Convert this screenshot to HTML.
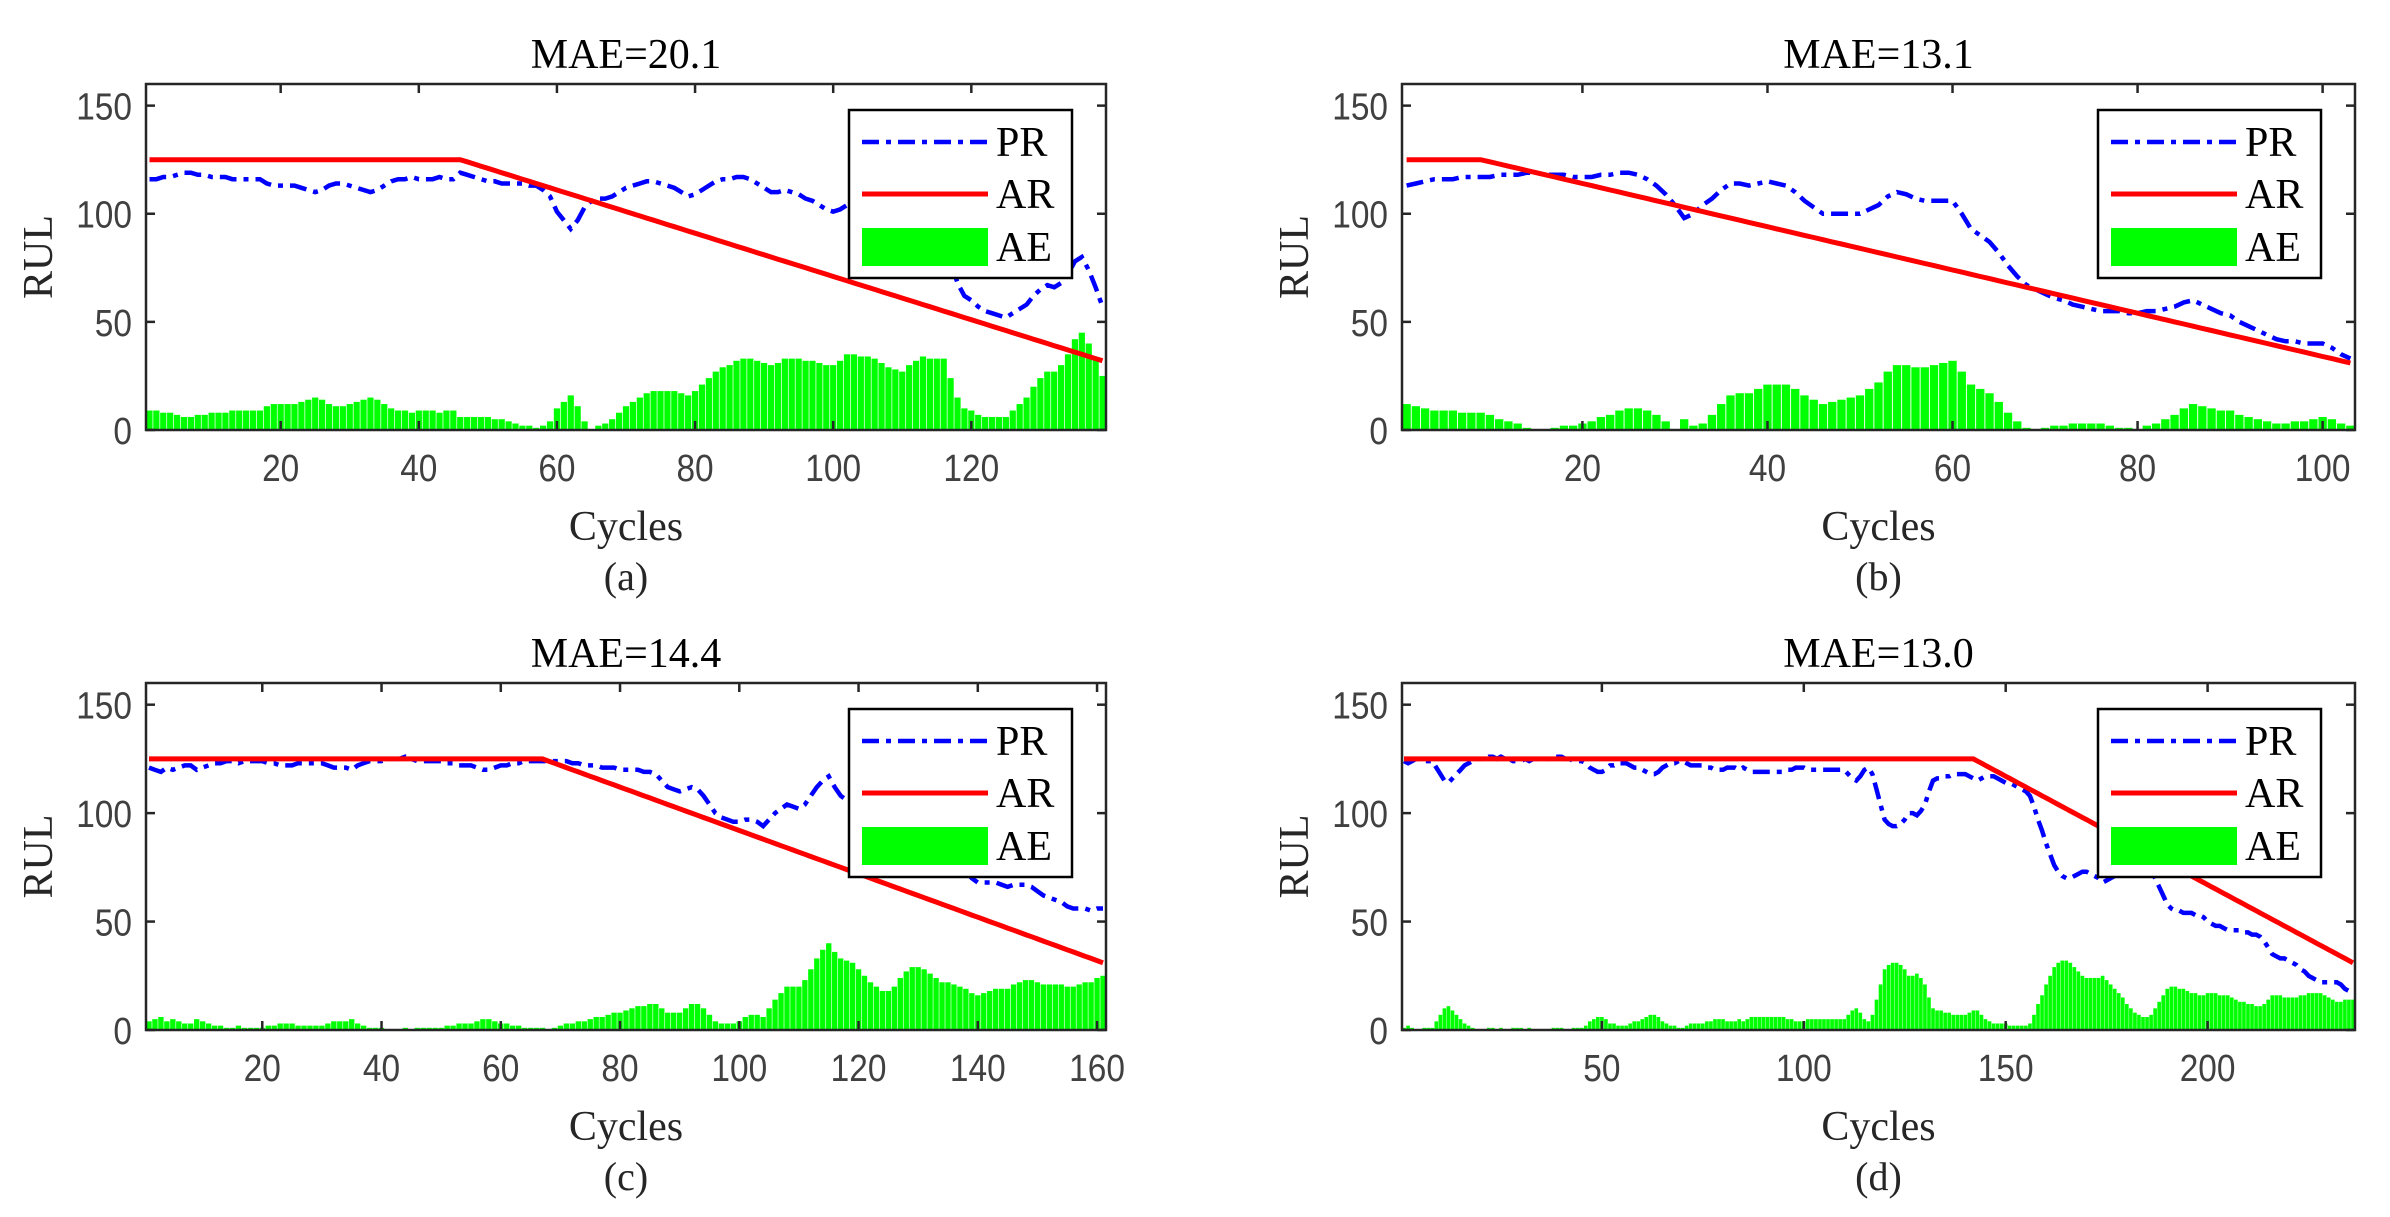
<!DOCTYPE html>
<html><head><meta charset="utf-8"><style>
html,body{margin:0;padding:0;background:#fff;}
svg{display:block;}
</style></head><body>
<svg id="fig" width="2390" height="1217" viewBox="0 0 2390 1217" xmlns="http://www.w3.org/2000/svg"></svg>
<script>
// ---- data (per-cycle values) ----
const titlesData = ["MAE=20.1","MAE=13.1","MAE=14.4","MAE=13.0"];
const captionsData = ["(a)","(b)","(c)","(d)"];
const kneeA = 46, kneeB = 9, kneeC = 67, kneeD = 142;
const maxRul = 125;
const xTicksA = [20,40,60,80,100,120];
const xTicksB = [20,40,60,80,100];
const xTicksC = [20,40,60,80,100,120,140,160];
const xTicksD = [50,100,150,200];
const yTicks = [0,50,100,150];
const prA = [116,116,117,117,118,119,119,118,118,117,
117,117,116,116,116,116,116,114,113,113,
113,113,112,111,110,111,113,114,114,113,
112,111,110,111,113,115,116,116,117,116,
116,116,117,116,116,119,118,117,116,115,
115,114,114,114,114,113,113,111,108,101,
97,93,97,103,106,107,107,108,110,112,
113,114,115,115,114,113,112,110,108,109,
111,113,115,116,116,117,117,116,114,112,
110,110,111,110,109,107,106,104,102,101,
102,104,103,101,100,98,95,92,90,88,
90,91,92,90,89,88,78,68,62,60,
57,55,54,53,52,54,56,58,62,65,
67,66,68,72,78,80,74,66,57];
const prB = [113,114,115,116,116,116,117,117,117,117,
118,118,118,119,119,118,118,118,117,117,
117,118,118,119,119,118,116,113,109,104,
98,100,104,107,111,114,114,113,114,115,
114,113,110,106,103,100,100,100,100,100,
102,104,108,110,109,107,106,106,106,106,
100,93,90,87,82,76,71,67,65,63,
61,60,58,57,56,55,55,55,54,54,
55,55,56,57,59,60,58,56,54,53,
50,48,46,44,42,41,41,40,40,40,
38,35,33];
const prC = [121,120,119,121,120,121,122,122,120,121,
122,123,123,124,124,123,124,124,124,124,
123,123,122,122,122,123,123,123,123,123,
122,121,121,121,120,122,123,124,124,124,
125,125,125,126,125,124,124,124,124,124,
123,123,122,122,122,121,120,120,121,122,
122,123,123,124,124,124,124,124,124,124,
124,123,123,122,122,122,121,121,121,120,
120,120,120,119,119,118,115,112,111,110,
111,112,111,108,104,100,98,97,96,96,
97,97,96,94,97,100,102,104,103,102,
104,108,112,115,117,112,108,106,104,100,
96,92,89,86,85,86,89,91,92,91,
89,86,83,80,79,77,75,73,70,68,
68,68,68,67,66,67,67,67,66,64,
62,61,60,59,57,56,56,56,55,56,56];
const prD = [124,123,124,125,125,124,124,124,121,118,
115,114,116,118,120,122,123,124,125,125,
125,126,126,125,126,125,125,124,124,124,
125,124,125,125,125,125,125,126,126,126,
125,125,124,124,124,123,121,120,119,119,
120,122,122,123,123,123,122,121,121,120,
119,118,118,119,121,122,123,123,124,124,
123,122,122,122,122,121,121,120,120,120,
121,121,121,120,121,120,119,119,119,119,
119,119,119,119,119,120,120,121,121,121,
120,120,120,120,120,120,120,120,120,120,
118,116,115,117,120,121,118,111,104,97,
95,94,94,95,97,100,100,99,101,104,
110,115,116,116,117,117,118,118,118,118,
117,116,115,116,117,117,117,116,115,114,
114,113,112,111,110,108,103,97,92,86,
81,76,73,71,70,70,71,72,73,73,
72,71,70,68,69,70,71,72,73,75,
76,77,77,77,76,74,70,66,62,58,
56,55,55,54,54,54,53,53,52,50,
49,48,48,47,46,46,46,46,45,45,
44,44,43,41,38,35,34,33,33,32,
31,30,28,27,25,24,23,22,22,22,
22,22,21,19,18,17];

const NS = "http://www.w3.org/2000/svg";
const svg = document.getElementById('fig');
function mk(tag, attrs, parent){
  const e = document.createElementNS(NS, tag);
  for (const k in attrs) e.setAttribute(k, attrs[k]);
  (parent||svg).appendChild(e);
  return e;
}
const panels = [
  {pr:prA, knee:kneeA, xt:xTicksA, L:146, T:84, R:1106, B:430, id:'a'},
  {pr:prB, knee:kneeB, xt:xTicksB, L:1402, T:84, R:2355, B:430, id:'b'},
  {pr:prC, knee:kneeC, xt:xTicksC, L:146, T:683, R:1106, B:1030, id:'c'},
  {pr:prD, knee:kneeD, xt:xTicksD, L:1402, T:683, R:2355, B:1030, id:'d'}
];
const AXC = '#262626', TKC = '#404040';
panels.forEach((p, pi) => {
  const n = p.pr.length;
  const ar = p.pr.map((v,i)=> Math.min(maxRul, maxRul - (i+1-p.knee)));
  const ae = p.pr.map((v,i)=> Math.abs(v - ar[i]));
  const xs = c => p.L + (c - 0.5) / n * (p.R - p.L);
  const ys = v => p.B - v / 160 * (p.B - p.T);
  const g = mk('g', {});
  
  
  const uw = (p.R - p.L) / n;
  const bg = mk('g', {fill:'#00ff00'}, g);
  
  
  ae.forEach((v,i) => {
    const b = mk('rect', {x: xs(i+1) - uw*0.45, y: ys(v), width: uw*0.9, height: p.B - ys(v)}, bg);
    
    
  });
  const prPts = p.pr.map((v,i)=> xs(i+1).toFixed(1)+','+ys(v).toFixed(1)).join(' ');
  const prl = mk('polyline', {points: prPts, fill:'none', stroke:'#0000ff', 'stroke-width':4.5, 'stroke-dasharray':'17,7,5,7'}, g);
  
  
  const arPts = ar.map((v,i)=> xs(i+1).toFixed(1)+','+ys(v).toFixed(1)).join(' ');
  const arl = mk('polyline', {points: arPts, fill:'none', stroke:'#ff0000', 'stroke-width':5}, g);
  
  
  const box = mk('rect', {x:p.L, y:p.T, width:p.R-p.L, height:p.B-p.T, fill:'none', stroke:AXC, 'stroke-width':2.5}, g);
  
  
  p.xt.forEach(t => {
    const x = xs(t);
    mk('line', {x1:x, y1:p.B, x2:x, y2:p.B-9, stroke:AXC, 'stroke-width':2.5}, g);
    mk('line', {x1:x, y1:p.T, x2:x, y2:p.T+9, stroke:AXC, 'stroke-width':2.5}, g);
    const tl = mk('text', {x:x, y:p.B+51, 'text-anchor':'middle', 'font-family':'Liberation Sans, sans-serif', 'font-size':38, fill:TKC, transform:'translate('+x+' 0) scale(0.88 1) translate('+(-x)+' 0)'}, g);
    tl.textContent = t;
    
    
  });
  yTicks.forEach(t => {
    const y = ys(t);
    mk('line', {x1:p.L, y1:y, x2:p.L+9, y2:y, stroke:AXC, 'stroke-width':2.5}, g);
    mk('line', {x1:p.R, y1:y, x2:p.R-9, y2:y, stroke:AXC, 'stroke-width':2.5}, g);
    const ax = p.L-14;
    const tl = mk('text', {x:ax, y:y+14, 'text-anchor':'end', 'font-family':'Liberation Sans, sans-serif', 'font-size':38, fill:TKC, transform:'translate('+ax+' 0) scale(0.88 1) translate('+(-ax)+' 0)'}, g);
    tl.textContent = t;
    
    
  });
  const cx = (p.L + p.R) / 2;
  const ti = mk('text', {x:cx, y:p.T-16, 'text-anchor':'middle', 'font-family':'Liberation Serif, serif', 'font-size':42, fill:'#000'}, g);
  ti.textContent = titlesData[pi];
  
  
  const xl = mk('text', {x:cx, y:p.B+110, 'text-anchor':'middle', 'font-family':'Liberation Serif, serif', 'font-size':42, fill:AXC}, g);
  xl.textContent = 'Cycles';
  
  
  const cap = mk('text', {x:cx, y:p.B+160, 'text-anchor':'middle', 'font-family':'Liberation Serif, serif', 'font-size':40, fill:AXC}, g);
  cap.textContent = captionsData[pi];
  
  
  const ym = (p.T + p.B) / 2, yx = p.L - 94;
  const yl = mk('text', {x:yx, y:ym, transform:'rotate(-90 '+yx+' '+ym+')', 'text-anchor':'middle', 'font-family':'Liberation Serif, serif', 'font-size':42, fill:AXC}, g);
  yl.textContent = 'RUL';
  
  
  const lx = p.R - 257, ly = p.T + 26;
  const lg = mk('g', {}, g);
  
  
  mk('rect', {x:lx, y:ly, width:223, height:168, fill:'#fff', stroke:'#000', 'stroke-width':2.5}, lg);
  mk('line', {x1:lx+13, y1:ly+32, x2:lx+139, y2:ly+32, stroke:'#0000ff', 'stroke-width':4.5, 'stroke-dasharray':'17,7,5,7'}, lg);
  mk('line', {x1:lx+13, y1:ly+84, x2:lx+139, y2:ly+84, stroke:'#ff0000', 'stroke-width':5}, lg);
  mk('rect', {x:lx+13, y:ly+118, width:126, height:38, fill:'#00ff00'}, lg);
  [['PR',32],['AR',84],['AE',137]].forEach(([s,dy]) => {
    const t = mk('text', {x:lx+147, y:ly+dy+14, 'font-family':'Liberation Serif, serif', 'font-size':42, fill:'#000'}, lg);
    t.textContent = s;
    
    
  });
});
</script>
</body></html>
